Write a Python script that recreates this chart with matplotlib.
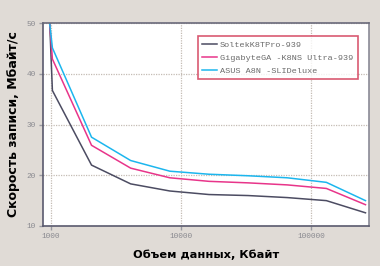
import matplotlib
matplotlib.use("Agg")
import matplotlib.pyplot as plt
from matplotlib.ticker import FixedLocator, NullLocator, FixedFormatter

sizes_kb = [512, 1024, 2048, 4096, 8192, 16384, 32768, 65536, 131072, 262144]
soltek = [230, 36.7, 22.0, 18.3, 16.9, 16.2, 16.0, 15.6, 15.0, 12.6]
gigabyte = [144, 42.9, 25.9, 21.4, 19.5, 18.8, 18.5, 18.1, 17.4, 14.2]
asus = [115, 45.1, 27.5, 22.9, 20.8, 20.2, 19.9, 19.5, 18.6, 15.0]
series_names = ["SoltekK8TPro-939", "GigabyteGA -K8NS Ultra-939", "ASUS A8N -SLIDeluxe"]
x_ticks = [1000, 10000, 100000]
x_tick_labels = ["1000", "10000", "100000"]
y_ticks = [10, 20, 30, 40, 50]

bg = "#e0dbd6"
fig = plt.figure(figsize=(3.8, 2.66), dpi=100, facecolor=bg)
ax = fig.add_axes([43/380, 1 - 226/266, (369-43)/380, (226-23)/266])
ax.set_facecolor("white")

colors = ["#4c4c62", "#e8358a", "#1cb6ee"]
for vals, name, c in zip([soltek, gigabyte, asus], series_names, colors):
    ax.plot(sizes_kb, vals, color=c, lw=1.1, label=name, solid_joinstyle="miter")

ax.set_xscale("log")
ax.set_xlim(867, 279000)
ax.set_ylim(10, 50)
ax.xaxis.set_major_locator(FixedLocator(x_ticks))
ax.xaxis.set_major_formatter(FixedFormatter(x_tick_labels))
ax.xaxis.set_minor_locator(NullLocator())
ax.set_yticks(y_ticks)

ax.grid(True, which="major", color="#c4bcb4", linestyle=(0, (1, 1)), lw=0.9)
for s in ax.spines.values():
    s.set_color("#5a5a6e")
    s.set_linewidth(1.2)
ax.spines["right"].set_color("#8a8a96")
ax.spines["top"].set_color("#6a6a7a")

ax.tick_params(axis="both", colors="#9a9aa2", labelcolor="#8a8a90", length=3,
               width=1, labelsize=5.6, pad=2)
for lab in ax.get_xticklabels() + ax.get_yticklabels():
    lab.set_family("Liberation Mono")

ax.set_xlabel("Объем данных, Кбайт", fontsize=8.2, fontweight="bold",
              family="DejaVu Sans", labelpad=7)
ax.set_ylabel("Скорость записи, Мбайт/с", fontsize=9, fontweight="bold",
              family="DejaVu Sans", labelpad=5)

leg = ax.legend(loc="upper right", bbox_to_anchor=(0.966, 0.936),
                prop={"family": "Liberation Mono", "size": 6.1},
                frameon=True, fancybox=False, handlelength=1.8,
                handletextpad=0.3, borderpad=0.55, labelspacing=0.6,
                borderaxespad=0.0)
leg.get_frame().set_edgecolor("#d0304e")
leg.get_frame().set_linewidth(1.2)
for t in leg.get_texts():
    t.set_color("#6a6a6a")

fig.savefig("out.png", dpi=100, facecolor=bg)
